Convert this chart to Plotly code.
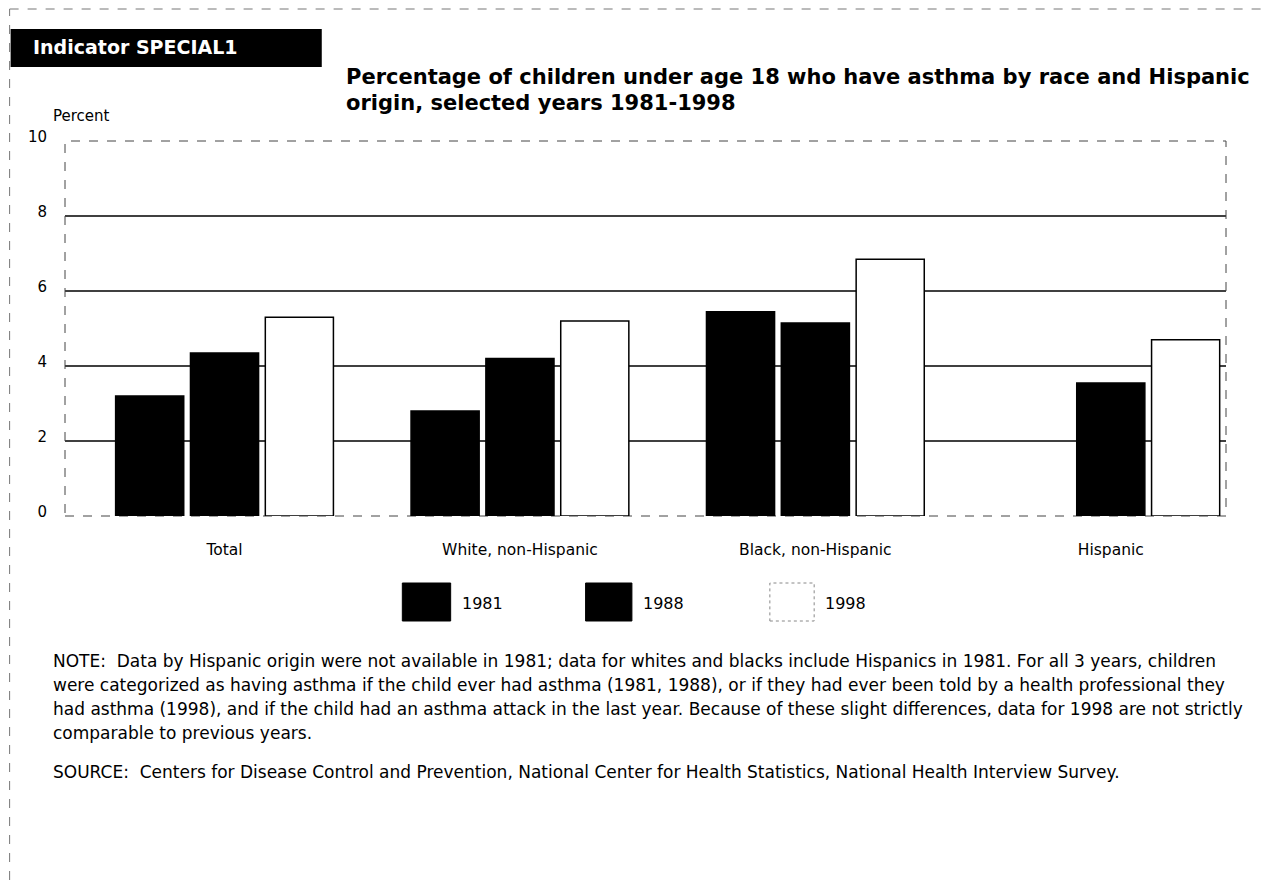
import plotly.graph_objects as go

# data
CATEGORIES = ["Total", "White, non-Hispanic", "Black, non-Hispanic", "Hispanic"]
YEARS = ["1981", "1988", "1998"]
PCT_1981 = [3.2, 2.8, 5.45, None]
PCT_1988 = [4.35, 4.2, 5.15, 3.55]
PCT_1998 = [5.3, 5.2, 6.85, 4.7]
Y_TICKS = [0, 2, 4, 6, 8, 10]
GRID_VALUES = [2, 4, 6, 8]

TITLE_LINES = ["Percentage of children under age 18 who have asthma by race and Hispanic",
               "origin, selected years 1981-1998"]
NOTE_LINES = [
    "NOTE:  Data by Hispanic origin were not available in 1981; data for whites and blacks include "
    "Hispanics in 1981. For all 3 years, children",
    "were categorized as having asthma if the child ever had asthma (1981, 1988), or if they had ever "
    "been told by a health professional they",
    "had asthma (1998), and if the child had an asthma attack in the last year. Because of these slight "
    "differences, data for 1998 are not strictly",
    "comparable to previous years.",
]
SOURCE = ("SOURCE:  Centers for Disease Control and Prevention, National Center for Health Statistics, "
          "National Health Interview Survey.")

# page is drawn with an 8px body margin, so the figure is shrunk by that much
OFF = 8
W, H = 1275 - OFF, 880 - OFF
PLOT_L, PLOT_R, PLOT_T, PLOT_B = 65, 1218, 141, 516  # in page pixels
ML, MR, MT, MB = PLOT_L - OFF, 1275 - PLOT_R - OFF, PLOT_T - OFF, 880 - PLOT_B
FONT = "DejaVu Sans"


def px(x):
    return (x - PLOT_L) / (PLOT_R - PLOT_L)


def py(y):
    return (PLOT_B - y) / (PLOT_B - PLOT_T)


fig = go.Figure()
fills = {"1981": "black", "1988": "black", "1998": "white"}
for year, vals in zip(YEARS, [PCT_1981, PCT_1988, PCT_1998]):
    fig.add_trace(go.Bar(
        x=CATEGORIES, y=vals, name=year,
        marker=dict(color=fills[year], line=dict(color="black", width=1.5)),
        showlegend=False,
    ))

shapes = []
for g in GRID_VALUES:
    shapes.append(dict(type="line", xref="paper", yref="y", x0=0, x1=1, y0=g, y1=g,
                       line=dict(color="black", width=1.6), layer="below"))
# dashed plot frame
shapes.append(dict(type="rect", xref="paper", yref="paper", x0=0, x1=1, y0=0, y1=1,
                   line=dict(color="#444", width=1, dash="dash"), layer="below"))
# page border (left and top)
shapes.append(dict(type="line", xref="paper", yref="paper", x0=px(10), x1=px(10), y0=py(880), y1=py(9),
                   line=dict(color="#777", width=1, dash="dash")))
shapes.append(dict(type="line", xref="paper", yref="paper", x0=px(10), x1=px(1275), y0=py(9), y1=py(9),
                   line=dict(color="#777", width=1, dash="dash")))
# indicator box
shapes.append(dict(type="rect", xref="paper", yref="paper", x0=px(11), x1=px(320), y0=py(67), y1=py(29),
                   fillcolor="black", line=dict(width=0)))

annotations = [
    dict(text="<b>Indicator SPECIAL1</b>", x=px(31), y=py(47), xanchor="left", yanchor="middle",
         font=dict(family=FONT, size=19, color="white")),
    dict(text="Percent", x=px(51), y=py(116), xanchor="left", yanchor="middle",
         font=dict(family=FONT, size=15, color="black")),
    dict(text=SOURCE, x=px(51), y=py(772), xanchor="left", yanchor="middle",
         font=dict(family=FONT, size=17, color="black")),
]
for i, line in enumerate(TITLE_LINES):
    annotations.append(dict(text="<b>" + line + "</b>", x=px(342), y=py(77 + 26 * i),
                            xanchor="left", yanchor="middle",
                            font=dict(family=FONT, size=21, color="black")))
for i, line in enumerate(NOTE_LINES):
    annotations.append(dict(text=line, x=px(51), y=py(661 + 24 * i), xanchor="left", yanchor="middle",
                            font=dict(family=FONT, size=17, color="black")))

# manual legend with large swatches
legend_boxes = [(400, 448), (582, 628), (765, 809)]
for year, (x0, x1) in zip(YEARS, legend_boxes):
    is_open = year == "1998"
    shapes.append(dict(type="rect", xref="paper", yref="paper", x0=px(x0), x1=px(x1), y0=py(621), y1=py(583),
                       fillcolor=fills[year],
                       line=dict(color="#888" if is_open else "black", width=1,
                                 dash="dot" if is_open else "solid")))
    annotations.append(dict(text=year, x=px(x1 + 9), y=py(603), xanchor="left", yanchor="middle",
                            font=dict(family=FONT, size=16, color="black")))

for a in annotations:
    a.update(xref="paper", yref="paper", showarrow=False)

fig.update_layout(
    width=W, height=H,
    margin=dict(l=ML, r=MR, t=MT, b=MB),
    paper_bgcolor="white", plot_bgcolor="white",
    barmode="group", bargap=0.24, bargroupgap=0.09,
    shapes=shapes, annotations=annotations,
    font=dict(family=FONT, size=14, color="black"),
)
fig.update_xaxes(range=[-0.54, 3.39], showgrid=False, showline=False, ticks="", ticklabelstandoff=22,
                 tickfont=dict(family=FONT, size=15.5))
fig.update_yaxes(range=[0, 10], tickvals=Y_TICKS, showgrid=False, zeroline=False, showline=False,
                 ticks="", ticklabelstandoff=17, ticklabelshift=-4, tickfont=dict(family=FONT, size=15))

fig.write_html("out.html")
